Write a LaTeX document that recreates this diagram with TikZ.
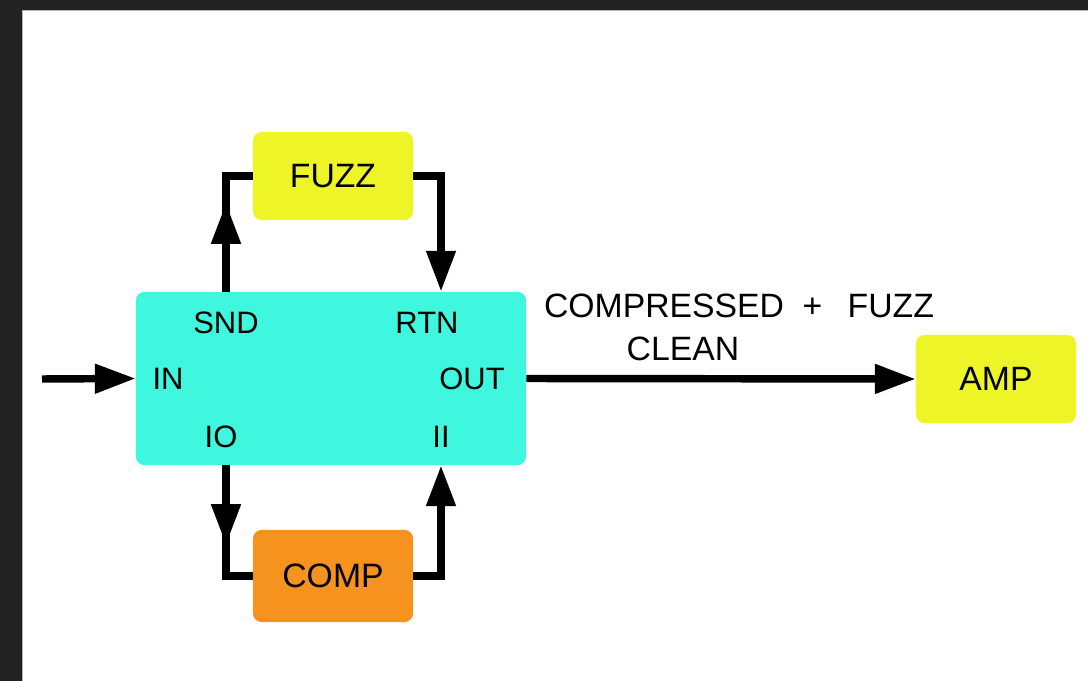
\documentclass[tikz,border=0pt]{standalone}
\usepackage{fontspec}
\setmainfont{Liberation Sans}
\usetikzlibrary{arrows.meta}

\definecolor{aqua}{HTML}{3FF6DF}
\definecolor{lemon}{HTML}{EEF526}
\definecolor{amber}{HTML}{F6921E}
\definecolor{bezel}{HTML}{222222}

\begin{document}
\begin{tikzpicture}[
    x=0.025cm, y=-0.025cm,
    block/.style={rectangle, rounded corners=6pt, inner sep=0pt,
                  minimum width=4cm, minimum height=2.2cm,
                  font=\fontsize{24}{28}\selectfont},
    fx/.style={block, fill=lemon},
    comp/.style={block, fill=amber, minimum height=2.3cm},
    router/.style={block, fill=aqua, minimum width=9.75cm, minimum height=4.33cm},
    port/.style={inner sep=0pt, font=\fontsize{22}{26}\selectfont},
    note/.style={inner sep=0pt, font=\fontsize{24}{28}\selectfont},
    wire/.style={line width=5.3pt},
    arrow/.style={wire, -{Triangle[length=29pt, width=20pt]}}
]
    \useasboundingbox (0,0) rectangle (1088,681);
    % screen frame
    \fill[bezel] (0,0) rectangle (1088,10);
    \fill[bezel] (0,0) rectangle (22,681);
    \draw[gray!60, line width=0.6pt] (22.3,681) -- (22.3,10.3) -- (1088,10.3);

    \node[router] (main) at (331, 378.5) {};
    \node[fx]     (fuzz) at (333, 176) {FUZZ};
    \node[comp]   (cmp)  at (333, 576) {COMP};
    \node[fx]     (amp)  at (996, 379) {AMP};

    \node[port] (lblsnd) at (226, 323) {SND};
    \node[port] (lblrtn) at (427, 323) {RTN};
    \node[port] (lblin)  at (168, 379) {IN};
    \node[port] (lblout) at (472, 379) {OUT};
    \node[port] (lblio)  at (221, 437) {IO};
    \node[port] (lblii)  at (441, 437) {II};

    \coordinate (src)    at (42, 379);
    \coordinate (sndtip) at (226, 203);
    \coordinate (iotip)  at (226, 545);

    % send / return loops
    \draw[wire]  (main.north -| lblsnd) |- (fuzz.west);
    \draw[arrow] (main.north -| lblsnd) -- (sndtip);
    \draw[arrow] (fuzz.east) -| (main.north -| lblii);

    \draw[wire]  (main.south -| lblsnd) |- (cmp.west);
    \draw[arrow] (main.south -| lblsnd) -- (iotip);
    \draw[arrow] (cmp.east) -| (main.south -| lblii);

    % signal path
    \draw[arrow] (src) -- (main.west);
    \draw[arrow] (main.east) -- (amp.west);
    \node[note] (mix)   at (739, 306) {COMPRESSED\hspace{0.55em}+\hspace{0.75em}FUZZ};
    \node[note] (clean) at (683, 349) {CLEAN};
\end{tikzpicture}
\end{document}
